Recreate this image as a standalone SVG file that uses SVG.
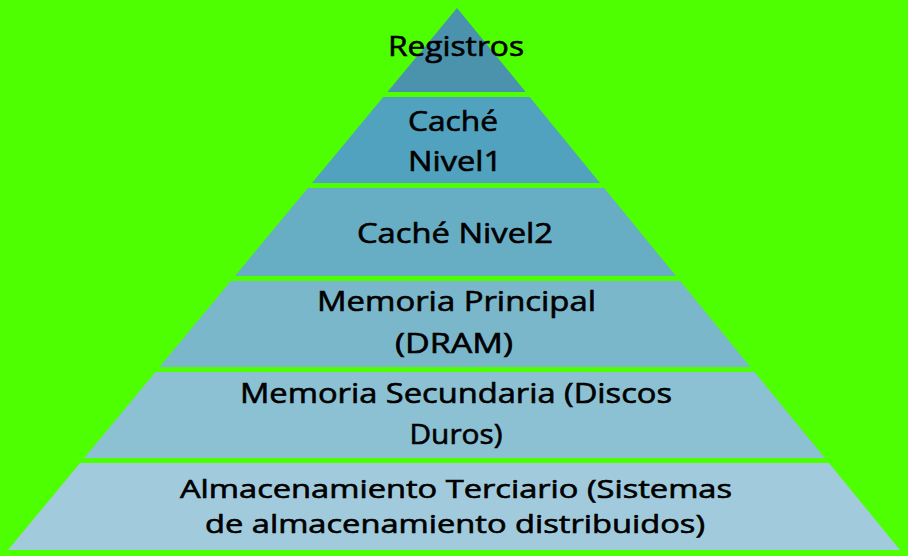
<svg xmlns="http://www.w3.org/2000/svg" width="908" height="556" viewBox="0 0 908 556">
<style>
.lbl{font-family:"Open Sans","Liberation Sans",sans-serif;font-size:27px;fill:#000;stroke:#000;stroke-width:0.6;text-anchor:middle}
.sm{font-size:25px}
</style>
<rect width="908" height="556" fill="#4dff00"/>
<g id="registros">
<polygon points="457,8 525.7,92 387.4,92" fill="#4b93ad"/>
<text class="lbl" x="456" y="56" textLength="136" lengthAdjust="spacingAndGlyphs">Registros</text>
</g>
<g id="cache-nivel1">
<polygon points="383.3,97 529.7,97 600,183 312,183" fill="#51a2be"/>
<text class="lbl" x="453" y="131" textLength="90" lengthAdjust="spacingAndGlyphs">Caché</text>
<text class="lbl" x="455" y="171" textLength="94" lengthAdjust="spacingAndGlyphs">Nivel1</text>
</g>
<g id="cache-nivel2">
<polygon points="307.9,188 604.1,188 676,276 235,276" fill="#67adc4"/>
<text class="lbl" x="455" y="243" textLength="196" lengthAdjust="spacingAndGlyphs">Caché Nivel2</text>
</g>
<g id="memoria-principal">
<polygon points="230.8,281 680.1,281 750.4,367 159.6,367" fill="#7bb7cb"/>
<text class="lbl" x="456.5" y="311" textLength="279" lengthAdjust="spacingAndGlyphs">Memoria Principal</text>
<text class="lbl" x="454" y="353" textLength="118" lengthAdjust="spacingAndGlyphs">(DRAM)</text>
</g>
<g id="memoria-secundaria">
<polygon points="155.5,372 754.5,372 824.8,458 84.2,458" fill="#8cc0d3"/>
<text class="lbl" x="456" y="403" textLength="432" lengthAdjust="spacingAndGlyphs">Memoria Secundaria (Discos</text>
<text class="lbl" x="456" y="444" textLength="93" lengthAdjust="spacingAndGlyphs">Duros)</text>
</g>
<g id="almacenamiento-terciario">
<polygon points="80.1,463 828.9,463 900,550 8,550" fill="#a1cbdc"/>
<text class="lbl sm" x="456" y="498" textLength="552" lengthAdjust="spacingAndGlyphs">Almacenamiento Terciario (Sistemas</text>
<text class="lbl sm" x="455" y="533" textLength="500" lengthAdjust="spacingAndGlyphs">de almacenamiento distribuidos)</text>
</g>
<g id="connectors"></g>
</svg>
